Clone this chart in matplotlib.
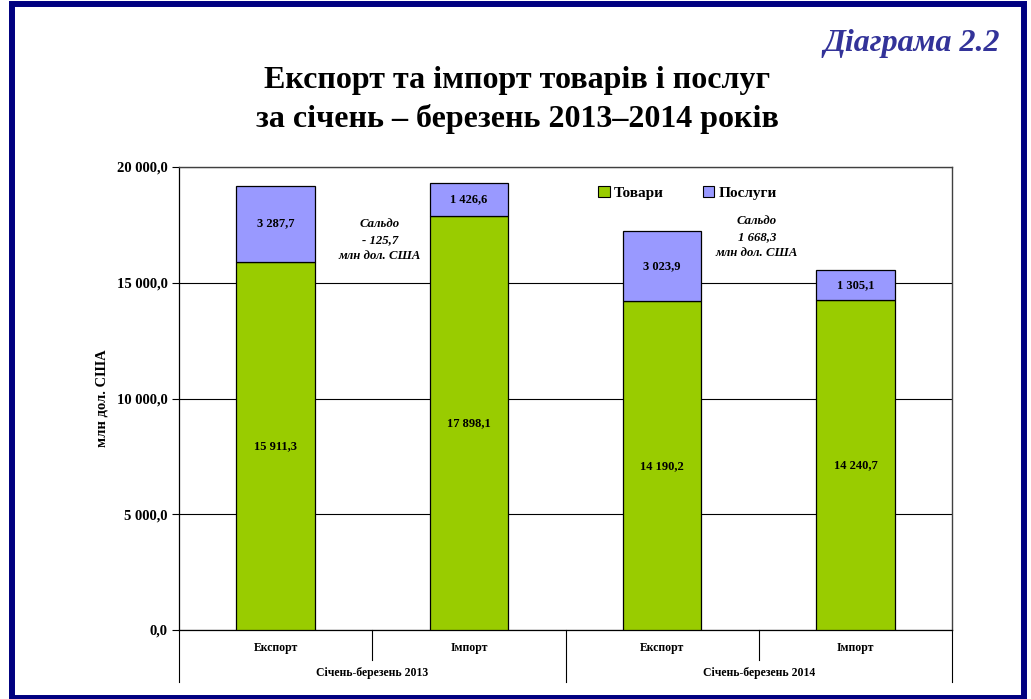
import matplotlib
matplotlib.use("Agg")
import matplotlib.pyplot as plt
from matplotlib.patches import Rectangle
from matplotlib.lines import Line2D
import matplotlib.transforms as mtransforms

# ---- data ----
categories = ["Експорт", "Імпорт", "Експорт", "Імпорт"]
groups = ["Січень-березень 2013", "Січень-березень 2014"]
goods = [15911.3, 17898.1, 14190.2, 14240.7]
services = [3287.7, 1426.6, 3023.9, 1305.1]
goods_labels = ["15 911,3", "17 898,1", "14 190,2", "14 240,7"]
services_labels = ["3 287,7", "1 426,6", "3 023,9", "1 305,1"]
yticks = [0, 5000, 10000, 15000, 20000]
ytick_labels = ["0,0", "5 000,0", "10 000,0", "15 000,0", "20 000,0"]
saldo_texts = ["Сальдо\n- 125,7\nмлн дол. США", "Сальдо\n1 668,3\nмлн дол. США"]
series_names = ["Товари", "Послуги"]

GREEN = "#99CC00"
VIOLET = "#9999FF"
SERIF = ["Liberation Serif", "DejaVu Serif"]

W, H = 1031, 699
fig = plt.figure(figsize=(W / 100, H / 100), dpi=100)
fig.patch.set_facecolor("white")

# frame border
fig.patches.append(Rectangle((11.5 / W, 1 - 697.5 / H), (1024 - 11.5) / W, (697.5 - 4) / H,
                             transform=fig.transFigure, fill=False,
                             edgecolor="#000080", linewidth=4.3, zorder=10))

ax = fig.add_axes([179 / W, 1 - 630 / H, (952 - 179) / W, (630 - 167) / H])

x = list(range(len(categories)))
bw = 0.405
ax.bar(x, goods, width=bw, color=GREEN, edgecolor="black", linewidth=0.9, zorder=3)
ax.bar(x, services, width=bw, bottom=goods, color=VIOLET, edgecolor="black", linewidth=0.9, zorder=3)

for i in x:
    ax.text(i, goods[i] / 2, goods_labels[i], ha="center", va="center",
            fontsize=9, fontweight="bold", family=SERIF, zorder=4)
    ax.text(i, goods[i] + services[i] / 2, services_labels[i], ha="center", va="center",
            fontsize=9, fontweight="bold", family=SERIF, zorder=4)

ax.set_xlim(-0.5, len(categories) - 0.5)
ax.set_ylim(0, 20000)
ax.set_yticks(yticks)
ax.set_yticklabels(ytick_labels, fontsize=10.5, fontweight="bold", family=SERIF)
ax.yaxis.grid(True, color="black", linewidth=0.8, zorder=0)
ax.set_axisbelow(True)
ax.tick_params(axis="y", direction="out", length=5, width=0.8, pad=3)
ax.set_xticks([])
for s in ["left", "bottom"]:
    ax.spines[s].set_color("black")
    ax.spines[s].set_linewidth(0.9)
for s in ["top", "right"]:
    ax.spines[s].set_color("#404040")
    ax.spines[s].set_linewidth(1.0)

ax.set_ylabel("млн дол. США", fontsize=10.5, fontweight="bold", family=SERIF, labelpad=2)
ax.yaxis.set_label_coords((109 - 179) / (952 - 179), 0.5)

# multi-level category axis
trans = mtransforms.blended_transform_factory(ax.transData, ax.transAxes)
ypix = lambda y: -(y - 630) / (630 - 167)
for b in [-0.5, 0.5, 1.5, 2.5, 3.5]:
    end = 682 if b in (-0.5, 1.5, 3.5) else 660
    ax.add_line(Line2D([b, b], [0, ypix(end)], transform=trans, color="black",
                       linewidth=0.8, clip_on=False))
for i in x:
    ax.text(i, ypix(648), categories[i], transform=trans, ha="center", va="center",
            fontsize=8.5, fontweight="bold", family=SERIF)
for g, name in enumerate(groups):
    ax.text(2 * g + 0.5, ypix(673), name, transform=trans, ha="center", va="center",
            fontsize=8.5, fontweight="bold", family=SERIF)

# saldo annotations
ax.text(0.54, 16850, saldo_texts[0], ha="center", va="center", fontsize=9.2,
        fontweight="bold", style="italic", family=SERIF, linespacing=1.45)
ax.text(2.49, 16980, saldo_texts[1], ha="center", va="center", fontsize=9.2,
        fontweight="bold", style="italic", family=SERIF, linespacing=1.45)

# legend
handles = [Rectangle((0, 0), 1, 1, facecolor=GREEN, edgecolor="black", linewidth=0.8),
           Rectangle((0, 0), 1, 1, facecolor=VIOLET, edgecolor="black", linewidth=0.8)]
leg = ax.legend(handles, series_names, loc="upper left",
                bbox_to_anchor=((592 - 179) / (952 - 179), 1 - (180 - 167) / (630 - 167)),
                ncol=2, frameon=False, handlelength=0.75, handleheight=0.75,
                handletextpad=0.25, columnspacing=2.6, borderaxespad=0,
                prop={"family": SERIF, "weight": "bold", "size": 11})

# titles
fig.text(1000 / W, 1 - 44 / H, "Діаграма 2.2", ha="right", va="center", fontsize=23,
         fontweight="bold", style="italic", color="#333399", family=SERIF)
fig.text(517 / W, 1 - 100 / H, "Експорт та імпорт товарів і послуг\nза січень – березень 2013–2014 років",
         ha="center", va="center", fontsize=23, fontweight="bold", family=SERIF, linespacing=1.38)

fig.savefig("out.png", dpi=100, facecolor="white")
